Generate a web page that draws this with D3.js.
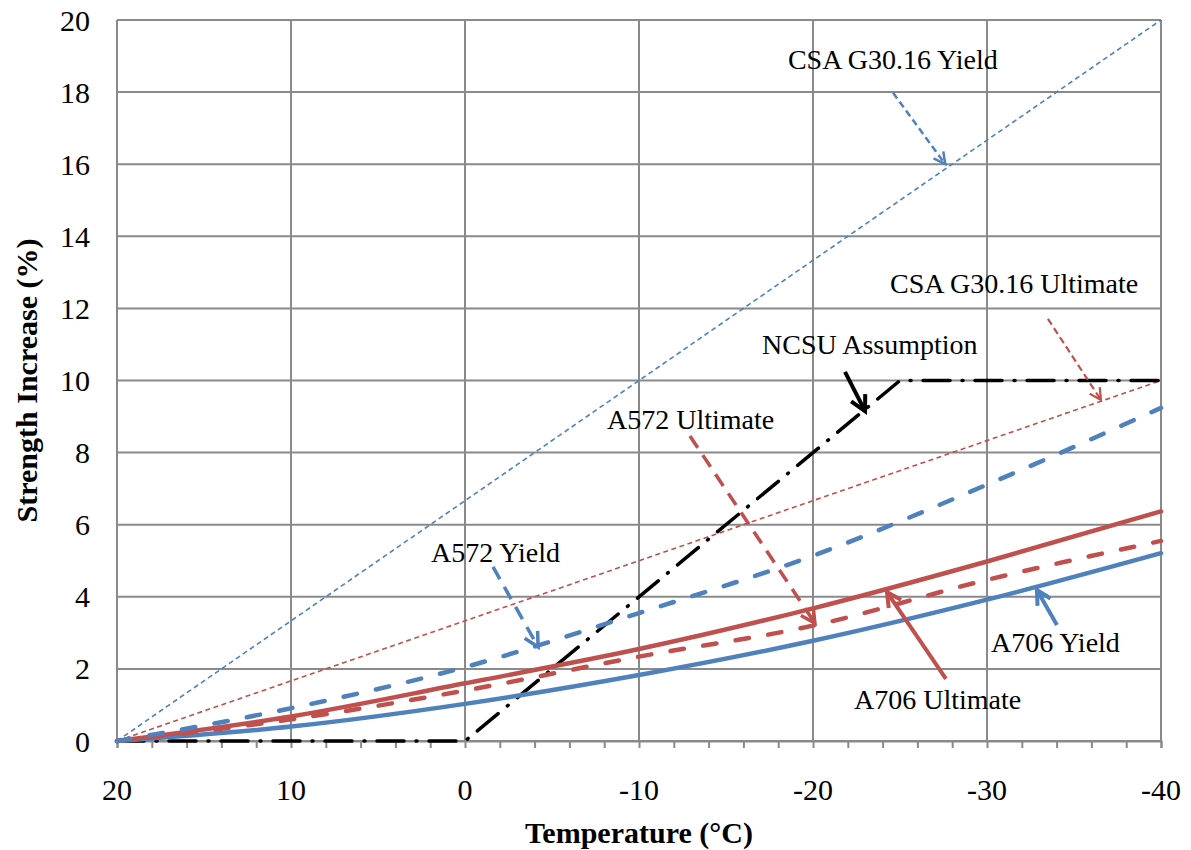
<!DOCTYPE html>
<html>
<head>
<meta charset="utf-8">
<script src="https://cdn.jsdelivr.net/npm/d3@7"></script>
<style>
    html, body { margin: 0; padding: 0; background: #fff; }
    svg { display: block; font-family: "Liberation Serif", "Times New Roman", serif; }
</style>
</head>
<body>
<svg id="chart" width="1191" height="850"></svg>
<script>
const temps = [20, 10, 0, -10, -20, -30, -40]
const a572Yield = [0, 0.91, 2.05, 3.55, 5.14, 7.11, 9.24]
const a572Ultimate = [0, 0.6, 1.4, 2.34, 3.2, 4.47, 5.55]
const a706Yield = [0, 0.4, 1.03, 1.83, 2.78, 3.92, 5.21]
const a706Ultimate = [0, 0.68, 1.6, 2.55, 3.68, 4.98, 6.37]

const csaTemps = [20, -40]
const csaYield = [0, 20]
const csaUltimate = [0, 10]

const ncsuTemps = [20, 0, -25, -40]
const ncsuValues = [0, 0, 10, 10]

const xTicks = [20, 10, 0, -10, -20, -30, -40]
const yTicks = [0, 2, 4, 6, 8, 10, 12, 14, 16, 18, 20]

// label text, label anchor [T, %], arrow from [T, %], arrow to [T, %]
const annotations = [
    { text: 'CSA G30.16 Yield', at: [-18.56, 18.64], from: [-24.6, 17.98], to: [-27.6, 16.0], key: 'csaY' },
    { text: 'CSA G30.16 Ultimate', at: [-24.43, 12.43], from: [-33.5, 11.71], to: [-36.55, 9.46], key: 'csaU' },
    { text: 'NCSU Assumption', at: [-17.07, 10.73], from: [-21.84, 10.24], to: [-22.99, 9.15], key: 'ncsu' },
    { text: 'A572 Ultimate', at: [-8.16, 8.65], from: [-12.93, 8.46], to: [-20.11, 3.27], key: 'a572U' },
    { text: 'A572 Yield', at: [1.95, 4.97], from: [-1.61, 4.83], to: [-4.2, 2.61], key: 'a572Y' },
    { text: 'A706 Yield', at: [-30.23, 2.47], from: [-34.02, 3.22], to: [-32.87, 4.19], key: 'a706Y' },
    { text: 'A706 Ultimate', at: [-22.36, 0.89], from: [-27.64, 1.72], to: [-24.25, 4.13], key: 'a706U' },
]

const BLUE = '#4f81bd'
const RED = '#c0504d'
const GRID = '#8a8a8a'

const styles = {
    csaY: { color: BLUE, width: 1.6, dash: '5,3.5', cap: 'butt' },
    csaU: { color: RED, width: 1.6, dash: '5,3.5', cap: 'butt' },
    ncsu: { color: '#000', width: 3.5, dash: '27,12,1,12', cap: 'round' },
    a572Y: { color: BLUE, width: 4.5, dash: '13.5,19.5', cap: 'round' },
    a572U: { color: RED, width: 4.5, dash: '13.5,19.5', cap: 'round' },
    a706Y: { color: BLUE, width: 4.5, dash: null, cap: 'round' },
    a706U: { color: RED, width: 4.5, dash: null, cap: 'round' },
}
const arrowStyles = {
    csaY: { color: BLUE, width: 2.5, dash: '7,4', head: 13 },
    csaU: { color: RED, width: 2.2, dash: '7,4', head: 13 },
    ncsu: { color: '#000', width: 4, dash: null, head: 17 },
    a572U: { color: RED, width: 3.5, dash: '14,9', head: 16 },
    a572Y: { color: BLUE, width: 3.5, dash: '14,9', head: 16 },
    a706Y: { color: BLUE, width: 4, dash: null, head: 16 },
    a706U: { color: RED, width: 4, dash: null, head: 16 },
}

const margin = { top: 20, right: 30, bottom: 109, left: 117 }
const width = 1191
const height = 850

const svg = d3.select('#chart')

const x = d3.scaleLinear()
    .domain([20, -40])
    .range([margin.left, width - margin.right])
const y = d3.scaleLinear()
    .domain([0, 20])
    .range([height - margin.bottom, margin.top])

const [x0, x1] = x.range()
const [y0, y1] = y.range()

// gridlines
const grid = svg.append('g')
    .attr('stroke', GRID)
    .attr('stroke-width', 2)
grid.selectAll('line.h')
    .data(yTicks)
    .join('line')
    .attr('class', 'h')
    .attr('x1', x0).attr('x2', x1)
    .attr('y1', d => y(d)).attr('y2', d => y(d))
grid.selectAll('line.v')
    .data(xTicks)
    .join('line')
    .attr('class', 'v')
    .attr('x1', d => x(d)).attr('x2', d => x(d))
    .attr('y1', y0).attr('y2', y1)

// x axis with minor ticks every 2 degrees
const xAxis = svg.append('g')
    .attr('transform', `translate(0,${y0})`)
    .call(d3.axisBottom(x).tickValues(d3.range(20, -41, -2)).tickSize(7).tickFormat(''))
xAxis.select('.domain').attr('stroke', GRID).attr('stroke-width', 2)
xAxis.selectAll('.tick line').attr('stroke', GRID).attr('stroke-width', 2)

svg.append('g')
    .selectAll('text')
    .data(xTicks)
    .join('text')
    .attr('x', d => x(d))
    .attr('y', y0 + 59)
    .attr('text-anchor', 'middle')
    .attr('font-size', 30)
    .text(d => d)

svg.append('g')
    .selectAll('text')
    .data(yTicks)
    .join('text')
    .attr('x', x0 - 27)
    .attr('y', d => y(d))
    .attr('dy', '0.35em')
    .attr('text-anchor', 'end')
    .attr('font-size', 30)
    .text(d => d)

svg.append('text')
    .attr('x', (x0 + x1) / 2)
    .attr('y', 843)
    .attr('text-anchor', 'middle')
    .attr('font-size', 30)
    .attr('font-weight', 'bold')
    .text('Temperature (°C)')

svg.append('text')
    .attr('transform', `translate(37,${(y0 + y1) / 2}) rotate(-90)`)
    .attr('text-anchor', 'middle')
    .attr('font-size', 30)
    .attr('font-weight', 'bold')
    .text('Strength Increase (%)')

// series
const series = [
    { key: 'csaY', t: csaTemps, v: csaYield, curve: d3.curveLinear },
    { key: 'csaU', t: csaTemps, v: csaUltimate, curve: d3.curveLinear },
    { key: 'ncsu', t: ncsuTemps, v: ncsuValues, curve: d3.curveLinear },
    { key: 'a706Y', t: temps, v: a706Yield, curve: d3.curveMonotoneX },
    { key: 'a572U', t: temps, v: a572Ultimate, curve: d3.curveMonotoneX },
    { key: 'a706U', t: temps, v: a706Ultimate, curve: d3.curveMonotoneX },
    { key: 'a572Y', t: temps, v: a572Yield, curve: d3.curveMonotoneX },
]

svg.append('g')
    .attr('fill', 'none')
    .selectAll('path')
    .data(series)
    .join('path')
    .attr('d', s => d3.line().curve(s.curve)
        .x(i => x(s.t[i]))
        .y(i => y(s.v[i]))(d3.range(s.t.length)))
    .attr('stroke', s => styles[s.key].color)
    .attr('stroke-width', s => styles[s.key].width)
    .attr('stroke-dasharray', s => styles[s.key].dash)
    .attr('stroke-linecap', s => styles[s.key].cap)
    .attr('stroke-linejoin', 'round')

// annotations
const ann = svg.append('g')
    .selectAll('g')
    .data(annotations)
    .join('g')

ann.append('text')
    .attr('x', d => x(d.at[0]))
    .attr('y', d => y(d.at[1]))
    .attr('font-size', 28)
    .text(d => d.text)

ann.append('line')
    .attr('x1', d => x(d.from[0]))
    .attr('y1', d => y(d.from[1]))
    .attr('x2', d => x(d.to[0]))
    .attr('y2', d => y(d.to[1]))
    .attr('stroke', d => arrowStyles[d.key].color)
    .attr('stroke-width', d => arrowStyles[d.key].width)
    .attr('stroke-dasharray', d => arrowStyles[d.key].dash)

function headPath(d) {
    const sx = x(d.from[0]), sy = y(d.from[1])
    const tx = x(d.to[0]), ty = y(d.to[1])
    const ang = Math.atan2(ty - sy, tx - sx)
    const len = arrowStyles[d.key].head
    const spread = Math.PI / 6.5
    const ax = tx - len * Math.cos(ang - spread), ay = ty - len * Math.sin(ang - spread)
    const bx = tx - len * Math.cos(ang + spread), by = ty - len * Math.sin(ang + spread)
    return `M${ax},${ay}L${tx},${ty}L${bx},${by}`
}

ann.append('path')
    .attr('d', headPath)
    .attr('fill', 'none')
    .attr('stroke', d => arrowStyles[d.key].color)
    .attr('stroke-width', d => arrowStyles[d.key].width)
    .attr('stroke-linejoin', 'miter')
</script>
</body>
</html>
